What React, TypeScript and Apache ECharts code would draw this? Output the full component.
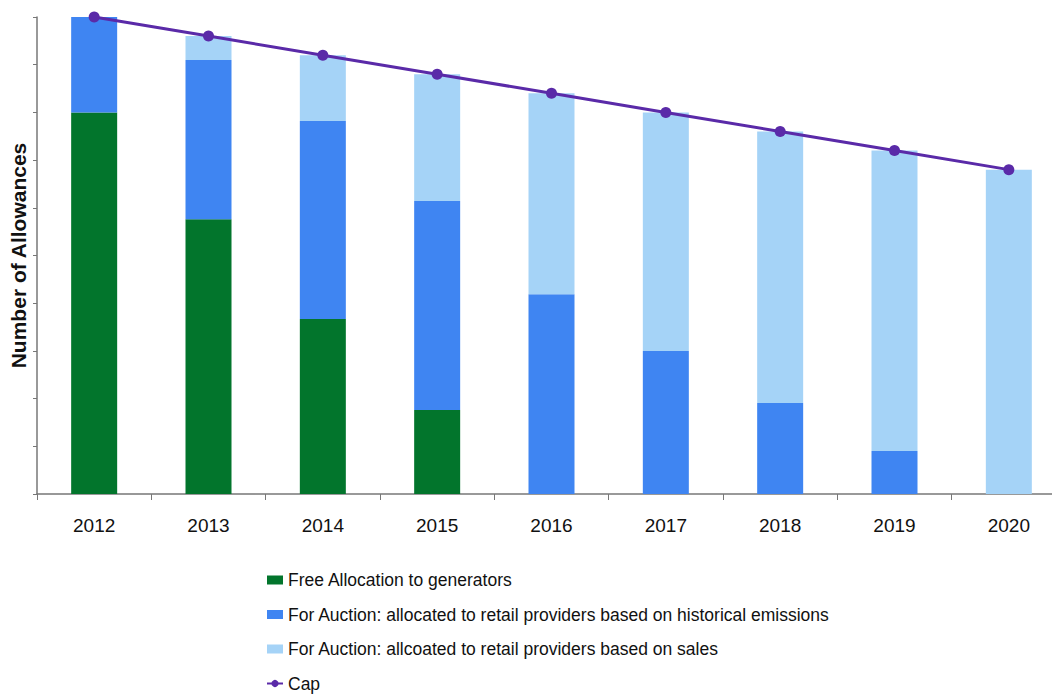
import React, { useEffect, useRef } from "react";
import * as echarts from "echarts";

const years = ["2012", "2013", "2014", "2015", "2016", "2017", "2018", "2019", "2020"];
const freeAllocation = [80, 57.6, 36.7, 17.6, 0, 0, 0, 0, 0];
const auctionHistorical = [20, 33.4, 41.5, 43.8, 41.9, 30, 19.1, 9, 0];
const auctionSales = [0, 5, 13.8, 26.6, 42.1, 50, 56.9, 63, 68];
const cap = [100, 96, 92, 88, 84, 80, 76, 72, 68];

const FONT = "'Liberation Sans', Arial, sans-serif";

export default function App() {
  const ref = useRef<HTMLDivElement>(null);
  useEffect(() => {
    if (!ref.current) return;
    const chart = echarts.init(ref.current, undefined, { renderer: "svg" });
    chart.setOption({
      animation: false,
      backgroundColor: "#ffffff",
      grid: { left: 37, top: 17, bottom: 201, width: 1029, containLabel: false, outerBoundsMode: "none" },
      legend: {
        orient: "vertical",
        left: 266,
        top: 571,
        height: 200,
        padding: 0,
        itemGap: 16.5,
        itemWidth: 16,
        itemHeight: 9,
        textStyle: { fontFamily: FONT, fontSize: 17.5, color: "#111" },
        data: [
          { name: "Free Allocation to generators", icon: "rect" },
          { name: "For Auction: allocated to retail providers based on historical emissions", icon: "rect" },
          { name: "For Auction: allcoated to retail providers based on sales", icon: "rect" },
          { name: "Cap" },
        ],
      },
      xAxis: {
        type: "category",
        data: years,
        axisLine: { lineStyle: { color: "#777", width: 1.5 } },
        axisTick: { show: true, length: 6, lineStyle: { color: "#777" } },
        axisLabel: { fontFamily: FONT, fontSize: 19, color: "#111", margin: 22 },
      },
      yAxis: {
        type: "value",
        min: 0,
        max: 100,
        interval: 10,
        name: "Number of Allowances",
        nameLocation: "middle",
        nameGap: 8,
        nameRotate: 90,
        nameTextStyle: { fontFamily: FONT, fontWeight: "bold", fontSize: 21, color: "#111" },
        axisLine: { show: true, lineStyle: { color: "#777", width: 1.5 } },
        axisTick: { show: true, length: 4, lineStyle: { color: "#777" } },
        axisLabel: { show: false },
        splitLine: { show: false },
      },
      series: [
        {
          name: "Free Allocation to generators",
          type: "bar",
          stack: "a",
          barWidth: 46,
          data: freeAllocation,
          itemStyle: { color: "#02752c" },
        },
        {
          name: "For Auction: allocated to retail providers based on historical emissions",
          type: "bar",
          stack: "a",
          barWidth: 46,
          data: auctionHistorical,
          itemStyle: { color: "#3f85f2" },
        },
        {
          name: "For Auction: allcoated to retail providers based on sales",
          type: "bar",
          stack: "a",
          barWidth: 46,
          data: auctionSales,
          itemStyle: { color: "#a5d3f7" },
        },
        {
          name: "Cap",
          type: "line",
          data: cap,
          symbol: "circle",
          symbolSize: 11,
          lineStyle: { color: "#5a2aa8", width: 3 },
          itemStyle: { color: "#5a2aa8" },
          z: 5,
        },
      ],
    });
    return () => chart.dispose();
  }, []);
  return <div ref={ref} style={{ width: 1052, height: 695, position: "absolute", left: 0, top: 0 }} />;
}
